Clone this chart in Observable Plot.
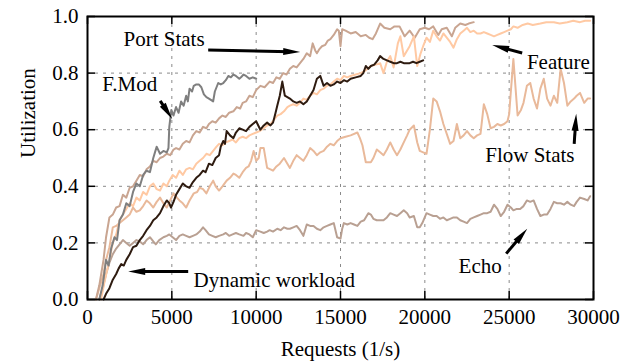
<!DOCTYPE html>
<html>
<head>
<meta charset="utf-8">
<script src="https://cdn.jsdelivr.net/npm/d3@7"></script>
<script src="https://cdn.jsdelivr.net/npm/@observablehq/plot@0.6"></script>
<style>
  html, body { margin: 0; padding: 0; background: white; }
</style>
</head>
<body>
<div id="chart"></div>
<script>
const xTicks = [0, 5000, 10000, 15000, 20000, 25000, 30000];
const yTicks = [0, 0.2, 0.4, 0.6, 0.8, 1.0];

const fmod = [[700,0],[900,0.05],[1100,0.14],[1250,0.12],[1400,0.18],[1600,0.22],[1750,0.21],[1900,0.28],[2100,0.30],[2300,0.34],[2500,0.33],[2700,0.38],[2900,0.41],[3100,0.40],[3300,0.44],[3500,0.455],[3700,0.45],[3900,0.50],[4000,0.52],[4100,0.54],[4300,0.515],[4500,0.525],[4700,0.52],[4800,0.535],[4850,0.61],[4970,0.67],[5100,0.65],[5250,0.68],[5400,0.66],[5550,0.70],[5700,0.685],[5850,0.72],[5950,0.70],[6050,0.745],[6200,0.735],[6300,0.755],[6450,0.76],[6600,0.76],[6750,0.75],[6900,0.725],[7050,0.715],[7200,0.71],[7450,0.70],[7550,0.735],[7650,0.75],[7750,0.765],[7900,0.76],[8050,0.765],[8200,0.775],[8350,0.79],[8500,0.785],[8650,0.795],[8800,0.79],[9000,0.78],[9100,0.785],[9250,0.795],[9400,0.79],[9600,0.78],[9800,0.785],[10000,0.78]];

const portStats = [[500,0],[700,0.05],[950,0.14],[1100,0.22],[1300,0.29],[1500,0.30],[1700,0.325],[1900,0.33],[2100,0.37],[2300,0.36],[2500,0.395],[2700,0.40],[2900,0.42],[3100,0.44],[3300,0.435],[3500,0.46],[3700,0.47],[3900,0.49],[4100,0.485],[4300,0.50],[4500,0.505],[4700,0.515],[4900,0.51],[5100,0.53],[5250,0.535],[5450,0.53],[5650,0.55],[5850,0.56],[6050,0.555],[6250,0.58],[6450,0.595],[6650,0.59],[6850,0.61],[7050,0.605],[7200,0.62],[7400,0.63],[7600,0.625],[7800,0.64],[8000,0.65],[8200,0.645],[8400,0.66],[8650,0.665],[8850,0.68],[9050,0.675],[9200,0.695],[9400,0.70],[9600,0.72],[9800,0.715],[10000,0.74],[10250,0.755],[10500,0.75],[10800,0.77],[11000,0.765],[11200,0.785],[11400,0.78],[11600,0.80],[11800,0.795],[12000,0.815],[12200,0.825],[12400,0.82],[12600,0.835],[12800,0.85],[13000,0.87],[13200,0.86],[13350,0.905],[13500,0.88],[13600,0.87],[13750,0.885],[13900,0.895],[14100,0.90],[14250,0.915],[14400,0.92],[14600,0.935],[14800,0.955],[14900,0.95],[15000,0.895],[15100,0.955],[15300,0.95],[15600,0.94],[15900,0.945],[16200,0.93],[16500,0.935],[16700,0.925],[16900,0.92],[17100,0.94],[17350,0.975],[17600,0.96],[17950,0.955],[18200,0.965],[18500,0.965],[18800,0.93],[19100,0.95],[19400,0.925],[19700,0.955],[20000,0.96],[20250,0.955],[20500,0.965],[20800,0.935],[21000,0.955],[21300,0.96],[21600,0.93],[21800,0.96],[22100,0.975],[22400,0.97],[22600,0.975],[22900,0.98]];

const feature = [[800,0],[1000,0.06],[1300,0.14],[1500,0.20],[1700,0.23],[1900,0.28],[2100,0.30],[2300,0.32],[2500,0.34],[2700,0.33],[2900,0.36],[3100,0.35],[3300,0.38],[3500,0.37],[3700,0.40],[3900,0.41],[4100,0.39],[4300,0.385],[4500,0.41],[4700,0.40],[4850,0.42],[5050,0.44],[5250,0.43],[5450,0.455],[5650,0.44],[5850,0.46],[6050,0.465],[6250,0.46],[6450,0.48],[6650,0.49],[6850,0.50],[7050,0.515],[7250,0.51],[7450,0.525],[7650,0.54],[7800,0.55],[8000,0.545],[8200,0.555],[8400,0.56],[8600,0.565],[8800,0.555],[9000,0.57],[9200,0.575],[9400,0.57],[9600,0.58],[9800,0.585],[10000,0.59],[10200,0.595],[10450,0.605],[10650,0.615],[10850,0.62],[11050,0.635],[11250,0.65],[11450,0.655],[11650,0.665],[11850,0.68],[12000,0.685],[12200,0.69],[12400,0.685],[12600,0.695],[12800,0.71],[13000,0.705],[13200,0.72],[13400,0.73],[13600,0.725],[13800,0.74],[14000,0.745],[14200,0.755],[14400,0.76],[14600,0.77],[14800,0.78],[15000,0.775],[15200,0.79],[15400,0.785],[15600,0.79],[15900,0.795],[16200,0.80],[16500,0.81],[16800,0.825],[17100,0.83],[17350,0.835],[17550,0.80],[17750,0.84],[17950,0.86],[18150,0.82],[18400,0.905],[18550,0.93],[18750,0.86],[18950,0.88],[19100,0.895],[19350,0.93],[19550,0.825],[19750,0.87],[19900,0.895],[20100,0.925],[20300,0.91],[20500,0.95],[20700,0.93],[20900,0.915],[21100,0.94],[21300,0.925],[21500,0.91],[21700,0.89],[21900,0.92],[22100,0.94],[22300,0.95],[22500,0.96],[22700,0.945],[22900,0.95],[23100,0.94],[23300,0.94],[23500,0.945],[23700,0.94],[23900,0.935],[24100,0.93],[24300,0.935],[24500,0.94],[24700,0.945],[24900,0.95],[25100,0.955],[25250,0.965],[25500,0.96],[25800,0.97],[26100,0.975],[26400,0.97],[26850,0.975],[27200,0.98],[27650,0.98],[28000,0.975],[28450,0.98],[28800,0.985],[29200,0.98],[29500,0.985],[29800,0.985]];

const dynamic = [[950,0],[1100,0.02],[1300,0.04],[1500,0.07],[1700,0.09],[1850,0.11],[2000,0.125],[2150,0.12],[2300,0.14],[2500,0.16],[2700,0.185],[2900,0.19],[3100,0.21],[3300,0.225],[3500,0.245],[3700,0.26],[3900,0.28],[4100,0.29],[4300,0.305],[4500,0.33],[4700,0.35],[4850,0.34],[4950,0.325],[5100,0.345],[5250,0.37],[5450,0.39],[5650,0.41],[5850,0.40],[6050,0.395],[6250,0.415],[6450,0.43],[6650,0.44],[6850,0.455],[7000,0.45],[7200,0.48],[7400,0.475],[7600,0.50],[7800,0.51],[7900,0.54],[8050,0.56],[8150,0.55],[8250,0.595],[8450,0.58],[8650,0.57],[8800,0.59],[9000,0.605],[9200,0.60],[9400,0.595],[9600,0.61],[9800,0.62],[10000,0.63],[10250,0.60],[10450,0.615],[10650,0.625],[10850,0.615],[11000,0.625],[11150,0.66],[11250,0.685],[11400,0.72],[11550,0.77],[11700,0.72],[11850,0.715],[12000,0.71],[12200,0.70],[12400,0.695],[12600,0.70],[12800,0.69],[13000,0.70],[13200,0.72],[13400,0.74],[13600,0.78],[13800,0.79],[14000,0.755],[14200,0.765],[14400,0.755],[14600,0.76],[14800,0.77],[15000,0.765],[15200,0.775],[15400,0.77],[15600,0.78],[15900,0.785],[16200,0.79],[16350,0.80],[16500,0.825],[16650,0.815],[16800,0.825],[17000,0.83],[17200,0.845],[17350,0.86],[17550,0.85],[17750,0.845],[17950,0.84],[18150,0.835],[18350,0.835],[18550,0.84],[18750,0.835],[18950,0.835],[19100,0.835],[19300,0.84],[19500,0.835],[19700,0.84],[19900,0.845]];

const flowStats = [[500,0],[700,0.04],[950,0.09],[1100,0.14],[1300,0.185],[1500,0.255],[1700,0.26],[1900,0.27],[2100,0.28],[2300,0.29],[2500,0.30],[2700,0.325],[2900,0.31],[3100,0.315],[3300,0.33],[3500,0.35],[3700,0.34],[3900,0.325],[4100,0.345],[4300,0.36],[4500,0.34],[4700,0.325],[4900,0.35],[5100,0.375],[5300,0.36],[5450,0.35],[5650,0.34],[5850,0.325],[6050,0.35],[6300,0.375],[6500,0.38],[6650,0.395],[6850,0.39],[7050,0.375],[7250,0.40],[7450,0.42],[7600,0.40],[7800,0.385],[8000,0.40],[8250,0.42],[8450,0.43],[8650,0.445],[8800,0.44],[9000,0.43],[9200,0.45],[9400,0.465],[9550,0.47],[9700,0.49],[9850,0.525],[10000,0.49],[10150,0.50],[10250,0.535],[10450,0.535],[10650,0.465],[10850,0.46],[11000,0.455],[11200,0.47],[11400,0.48],[11650,0.50],[11850,0.48],[12000,0.465],[12200,0.49],[12400,0.51],[12600,0.50],[12800,0.49],[13000,0.51],[13200,0.535],[13400,0.525],[13600,0.51],[13800,0.52],[14000,0.525],[14200,0.54],[14400,0.55],[14600,0.545],[14800,0.56],[15000,0.57],[15300,0.575],[15600,0.58],[16000,0.59],[16150,0.57],[16300,0.545],[16500,0.485],[16800,0.485],[16950,0.50],[17150,0.53],[17350,0.52],[17550,0.51],[17750,0.53],[17950,0.555],[18150,0.53],[18350,0.51],[18550,0.53],[18750,0.555],[18950,0.58],[19100,0.60],[19350,0.615],[19550,0.555],[19700,0.525],[19900,0.52],[20100,0.515],[20300,0.60],[20500,0.71],[20700,0.70],[20900,0.665],[21100,0.62],[21300,0.585],[21500,0.55],[21700,0.56],[21900,0.62],[22100,0.57],[22300,0.58],[22500,0.595],[22700,0.58],[22900,0.57],[23100,0.58],[23300,0.585],[23500,0.69],[23700,0.655],[23900,0.605],[24100,0.61],[24300,0.62],[24500,0.615],[24700,0.62],[24900,0.63],[25000,0.655],[25100,0.735],[25250,0.85],[25400,0.73],[25500,0.65],[25700,0.67],[25850,0.695],[26050,0.755],[26250,0.765],[26450,0.71],[26650,0.675],[26850,0.745],[27050,0.78],[27250,0.71],[27450,0.685],[27650,0.72],[27850,0.695],[28050,0.815],[28250,0.765],[28450,0.685],[28650,0.70],[28850,0.71],[29000,0.72],[29200,0.73],[29450,0.695],[29650,0.71],[29800,0.71]];

const echo = [[700,0],[900,0.04],[1100,0.09],[1300,0.13],[1500,0.16],[1700,0.18],[1900,0.195],[2100,0.21],[2300,0.20],[2500,0.19],[2700,0.20],[2900,0.21],[3100,0.205],[3300,0.195],[3500,0.21],[3700,0.22],[3900,0.205],[4050,0.195],[4250,0.21],[4500,0.22],[4700,0.225],[4850,0.23],[5050,0.22],[5250,0.21],[5450,0.225],[5650,0.23],[5850,0.225],[6050,0.22],[6250,0.225],[6450,0.23],[6650,0.24],[6850,0.255],[7000,0.245],[7200,0.23],[7400,0.225],[7600,0.22],[7800,0.225],[8050,0.23],[8200,0.235],[8400,0.225],[8600,0.23],[8800,0.235],[9000,0.23],[9250,0.225],[9400,0.235],[9600,0.23],[9800,0.22],[10000,0.245],[10250,0.24],[10450,0.235],[10650,0.24],[10800,0.245],[11000,0.24],[11250,0.25],[11450,0.245],[11650,0.255],[11850,0.25],[12000,0.25],[12200,0.255],[12400,0.26],[12600,0.245],[12800,0.225],[13000,0.265],[13200,0.26],[13400,0.26],[13600,0.25],[13800,0.245],[14000,0.255],[14200,0.26],[14400,0.265],[14600,0.27],[14800,0.22],[15000,0.215],[15100,0.25],[15200,0.27],[15400,0.265],[15600,0.27],[15800,0.265],[16000,0.26],[16200,0.275],[16400,0.28],[16650,0.305],[16800,0.30],[16950,0.285],[17150,0.28],[17350,0.28],[17550,0.28],[17750,0.29],[17950,0.305],[18150,0.30],[18350,0.295],[18550,0.305],[18750,0.315],[18950,0.305],[19100,0.29],[19350,0.295],[19550,0.255],[19700,0.255],[19850,0.27],[20100,0.305],[20300,0.30],[20500,0.295],[20700,0.295],[20900,0.285],[21100,0.29],[21300,0.28],[21500,0.285],[21700,0.29],[21900,0.29],[22100,0.28],[22300,0.275],[22500,0.27],[22700,0.285],[22900,0.29],[23100,0.295],[23300,0.30],[23500,0.305],[23700,0.305],[23900,0.31],[24100,0.335],[24300,0.32],[24500,0.295],[24700,0.31],[24900,0.335],[25100,0.325],[25250,0.315],[25450,0.32],[25650,0.32],[25850,0.33],[26050,0.35],[26250,0.345],[26450,0.35],[26650,0.32],[26850,0.295],[27050,0.30],[27250,0.30],[27450,0.32],[27650,0.345],[27850,0.34],[28050,0.34],[28250,0.335],[28450,0.345],[28650,0.335],[28850,0.33],[29000,0.345],[29200,0.36],[29450,0.355],[29650,0.35],[29800,0.365]];

const labels = [
  {text: "Port Stats", x: 2134, y: 0.918},
  {text: "F.Mod", x: 877, y: 0.760},
  {text: "Feature", x: 26050, y: 0.838},
  {text: "Flow Stats", x: 23580, y: 0.509},
  {text: "Echo", x: 22000, y: 0.119},
  {text: "Dynamic workload", x: 6285, y: 0.068}
];

const arrows = [
  {x1: 7156, y1: 0.882, x2: 12611, y2: 0.875},
  {x1: 4310, y1: 0.702, x2: 5022, y2: 0.638},
  {x1: 25772, y1: 0.871, x2: 23994, y2: 0.899},
  {x1: 28855, y1: 0.550, x2: 28974, y2: 0.656},
  {x1: 24825, y1: 0.162, x2: 26070, y2: 0.250},
  {x1: 5970, y1: 0.099, x2: 2413, y2: 0.099}
];

const series = [
  {data: echo, color: "#b9a092"},
  {data: flowStats, color: "#e9b99a"},
  {data: portStats, color: "#c9a591"},
  {data: feature, color: "#ffc9a3"},
  {data: fmod, color: "#7f7f7f"},
  {data: dynamic, color: "#2e1b10"}
];

const W = 641, H = 362, ML = 87, MR = 48, MT = 16, MB = 63;
const PW = W - ML - MR, PH = H - MT - MB, TL = 8;
const XMAX = 30000;
const HEAD_L = 17, HEAD_W = 7;

// screen-space direction of each arrow (for head rotation and shaft trimming)
function screenVec(a) {
  const dx = (a.x2 - a.x1) * PW / XMAX;
  const dy = -(a.y2 - a.y1) * PH;
  return {dx, dy, len: Math.hypot(dx, dy)};
}
const arrowRot = a => { const v = screenVec(a); return Math.atan2(v.dy, v.dx) * 180 / Math.PI; };
const shaftX2 = a => { const v = screenVec(a); return a.x2 - (a.x2 - a.x1) * (HEAD_L * 0.6 / v.len); };
const shaftY2 = a => { const v = screenVec(a); return a.y2 - (a.y2 - a.y1) * (HEAD_L * 0.6 / v.len); };

const headSymbol = {
  draw(context) {
    context.moveTo(0, 0);
    context.lineTo(-HEAD_L, -HEAD_W / 2);
    context.lineTo(-HEAD_L, HEAD_W / 2);
    context.closePath();
  }
};

const FONT = 21;

const chart = Plot.plot({
  width: W, height: H,
  marginLeft: ML, marginRight: MR, marginTop: MT, marginBottom: MB,
  style: {fontFamily: "'Liberation Serif', 'DejaVu Serif', serif", fontSize: FONT + "px", background: "white", color: "black"},
  x: {domain: [0, XMAX]},
  y: {domain: [0, 1]},
  marks: [
    Plot.gridX(xTicks, {stroke: "#8a8a8a", strokeOpacity: 1, strokeWidth: 1, strokeDasharray: "3,5"}),
    Plot.gridY(yTicks, {stroke: "#8a8a8a", strokeOpacity: 1, strokeWidth: 1, strokeDasharray: "3,5"}),
    ...series.map(s => Plot.line(s.data, {x: d => d[0], y: d => d[1], stroke: s.color, strokeWidth: 2})),
    Plot.tickX(xTicks, {x: d => d, insetTop: PH - TL, stroke: "black", strokeWidth: 1.5}),
    Plot.tickX(xTicks, {x: d => d, insetBottom: PH - TL, stroke: "black", strokeWidth: 1.5}),
    Plot.tickY(yTicks, {y: d => d, insetRight: PW - TL, stroke: "black", strokeWidth: 1.5}),
    Plot.tickY(yTicks, {y: d => d, insetLeft: PW - TL, stroke: "black", strokeWidth: 1.5}),
    Plot.frame({stroke: "black", strokeWidth: 2}),
    Plot.axisX(xTicks, {tickSize: 0, tickPadding: 10, tickFormat: d => String(d), label: null, fontSize: FONT}),
    Plot.axisY(yTicks, {tickSize: 0, tickPadding: 9, tickFormat: d3.format(".1f"), label: null, fontSize: FONT}),
    Plot.text(["Requests (1/s)"], {frameAnchor: "bottom", lineAnchor: "bottom", dy: 56, fontSize: FONT, fill: "black"}),
    Plot.text(["Utilization"], {frameAnchor: "left", rotate: -90, lineAnchor: "middle", dx: -59, fontSize: FONT, fill: "black"}),
    Plot.link(arrows, {x1: "x1", y1: "y1", x2: shaftX2, y2: shaftY2, stroke: "black", strokeWidth: 3}),
    Plot.dot(arrows, {x: "x2", y: "y2", symbol: headSymbol, rotate: arrowRot, fill: "black", stroke: "none"}),
    Plot.text(labels, {x: "x", y: "y", text: "text", textAnchor: "start", lineAnchor: "middle", fontSize: FONT, fill: "black"})
  ]
});
document.getElementById("chart").appendChild(chart);
</script>
</body>
</html>
